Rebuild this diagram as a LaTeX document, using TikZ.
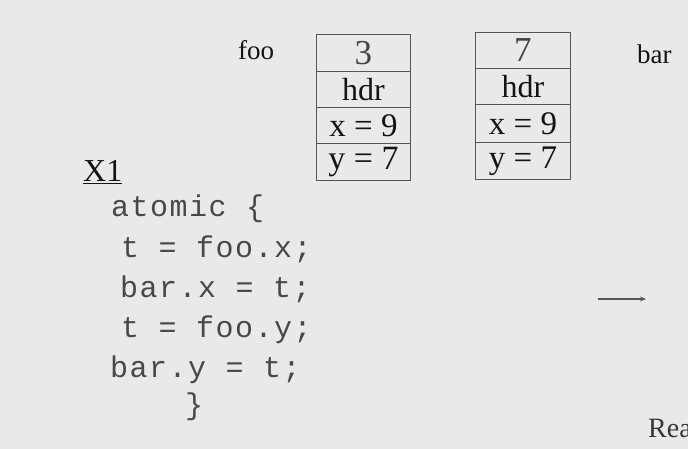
\documentclass[tikz,border=0pt]{standalone}
\usepackage{fontspec}
\setmainfont{Liberation Serif}
\setmonofont{Liberation Mono}[LetterSpace=5]
\usetikzlibrary{arrows.meta}
\definecolor{bg}{HTML}{E9EAE8}
\definecolor{ink}{HTML}{141414}
\definecolor{codeink}{HTML}{484848}
\definecolor{rule}{HTML}{555555}
\tikzset{
  cell/.style={draw=rule, line width=0.9pt, minimum width=94pt, inner sep=0pt, text=ink, anchor=north west},
  lbl/.style={inner sep=0pt, anchor=base west, text=ink, font=\fontsize{27}{29}\selectfont},
  code/.style={inner sep=0pt, anchor=base west, text=codeink, font=\ttfamily\fontsize{30}{32}\selectfont},
}
\begin{document}
\begin{tikzpicture}[x=1pt, y=-1pt]
  \fill[bg] (0,0) rectangle (688,449);
  \useasboundingbox (0,0) rectangle (688,449);

  % object foo
  \node[lbl] (foolbl) at (238,60) {foo};
  \node[cell, minimum height=37pt, font=\fontsize{35}{37}\selectfont, text=ink!80] (foo0) at (316,34) {3};
  \node[cell, minimum height=36pt, font=\fontsize{32}{34}\selectfont] (foo1) at (316,71) {hdr};
  \node[cell, minimum height=36pt, font=\fontsize{33}{35}\selectfont] (foo2) at (316,107) {x = 9};
  \node[cell, minimum height=37pt, font=\fontsize{34}{36}\selectfont] (foo3) at (316,143) {y = 7};

  % object bar
  \node[lbl] (barlbl) at (637,64) {bar};
  \node[cell, minimum height=36pt, minimum width=95pt, font=\fontsize{35}{37}\selectfont, text=ink!80] (bar0) at (475,32) {7};
  \node[cell, minimum height=36pt, minimum width=95pt, font=\fontsize{32}{34}\selectfont] (bar1) at (475,68) {hdr};
  \node[cell, minimum height=38pt, minimum width=95pt, font=\fontsize{33}{35}\selectfont] (bar2) at (475,104) {x = 9};
  \node[cell, minimum height=37pt, minimum width=95pt, font=\fontsize{33}{35}\selectfont] (bar3) at (475,142) {y = 7};

  % transaction X1
  \node[lbl, font=\fontsize{32}{34}\selectfont] (x1) at (83,182) {\underline{X1}};
  \node[code] (c1) at (111,217) {atomic \{};
  \node[code] (c2) at (121,257) {t = foo.x;};
  \node[code] (c3) at (120,297) {bar.x = t;};
  \node[code] (c4) at (121,337) {t = foo.y;};
  \node[code] (c5) at (110,377) {bar.y = t;};
  \node[code] (c6) at (185,414) {\}};

  % arrow and cut-off caption on the right
  \coordinate (a1) at (598,299);
  \coordinate (a2) at (646,299);
  \draw[rule, line width=1.6pt, -{Stealth[length=6pt,width=5pt]}] (a1) -- (a2);
  \node[lbl, font=\fontsize{28}{30}\selectfont, text=ink!85] (rea) at (648,437) {Rea};
\end{tikzpicture}
\end{document}
